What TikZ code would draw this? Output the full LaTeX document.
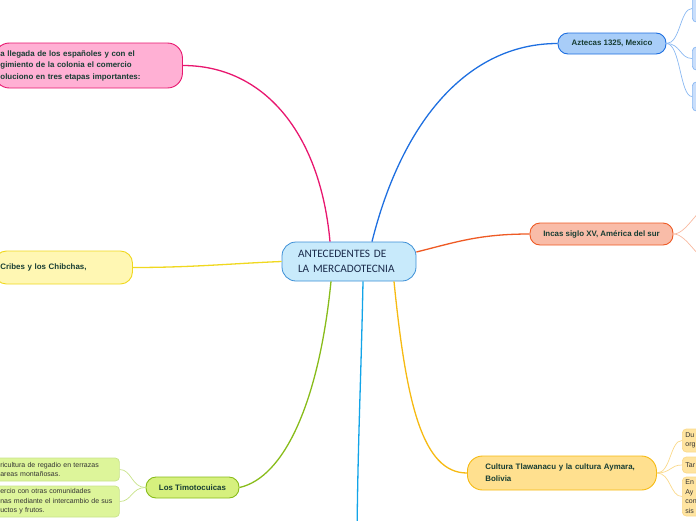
\documentclass[tikz,border=0pt]{standalone}
\usepackage{fontspec}
\setmainfont{Liberation Sans}
\newfontfamily\rootfont{Carlito}
\definecolor{rootfill}{HTML}{C8EAFB}
\definecolor{rootedge}{HTML}{3C8FD6}
\definecolor{rootink}{HTML}{1B2B4B}
\definecolor{labelink}{HTML}{173D33}
\definecolor{leafink}{HTML}{333333}
\definecolor{pinkfill}{HTML}{FFB0D4}
\definecolor{pinkline}{HTML}{E8176F}
\definecolor{bluefill}{HTML}{A8CDF8}
\definecolor{blueline}{HTML}{1E6FE0}
\definecolor{bluetwig}{HTML}{8AB8F2}
\definecolor{blueleaf}{HTML}{C9DEFB}
\definecolor{incafill}{HTML}{F9BCA8}
\definecolor{incaline}{HTML}{EE5A24}
\definecolor{incatwig}{HTML}{F8B9A0}
\definecolor{yellowfill}{HTML}{FFF7B3}
\definecolor{yellowline}{HTML}{F0D81F}
\definecolor{greenfill}{HTML}{D6F07E}
\definecolor{greenline}{HTML}{88BC1A}
\definecolor{greenleaf}{HTML}{DDF59A}
\definecolor{greentwig}{HTML}{C8E38A}
\definecolor{cyanline}{HTML}{12A4E8}
\definecolor{amberfill}{HTML}{FFE08F}
\definecolor{amberline}{HTML}{F6BA12}
\definecolor{amberleaf}{HTML}{FFE4A0}
\definecolor{ambertwig}{HTML}{FAD98A}

\begin{document}
\begin{tikzpicture}[
    x=1pt, y=-1pt,
    topic/.style={draw, rounded corners=10pt, line width=0.9pt, inner sep=0pt, text=labelink, font=\bfseries\fontsize{7.9}{11.5}\selectfont},
    leaf/.style={draw, rounded corners=4pt, line width=0.7pt, inner ysep=0pt, align=left, anchor=west, text=leafink, font=\fontsize{7}{9.5}\selectfont},
    branch/.style={line width=1.3pt},
    twig/.style={line width=0.7pt},
]
    \useasboundingbox (0,0) rectangle (696,520);
    \clip (0,0) rectangle (696,520);

    % central topic
    \node[draw=rootedge, fill=rootfill, rounded corners=14pt, line width=0.8pt, minimum height=39pt, inner xsep=16pt, text width=102pt, align=left, text=rootink, font=\rootfont\fontsize{11.3}{15}\selectfont] (root) at (349,261.5) {ANTECEDENTES DE\\LA MERCADOTECNIA};

    % main topics
    \node[topic, draw=pinkline, fill=pinkfill, rounded corners=15pt, anchor=west, minimum height=45pt, inner xsep=6pt, text width=176pt, align=left] (conquista) at (-6,65.5) {a llegada de los españoles y con el\\gimiento de la colonia el comercio\\oluciono en tres etapas importantes:};
    \node[topic, draw=blueline, fill=bluefill, minimum width=108pt, minimum height=21pt] (aztecas) at (612,43.5) {Aztecas 1325, Mexico};
    \node[topic, draw=incaline, fill=incafill, minimum width=143pt, minimum height=22pt] (incas) at (601.5,234) {Incas siglo XV, América del sur};
    \node[topic, draw=yellowline, fill=yellowfill, rounded corners=12pt, anchor=west, minimum height=33pt, inner xsep=6pt, text width=126pt, align=left] (cribes) at (-6,267.5) {Cribes y los Chibchas,};
    \node[topic, draw=greenline, fill=greenfill, minimum width=93pt, minimum height=21pt] (timoto) at (192.5,487.5) {Los Timotocuicas};
    \node[topic, draw=amberline, fill=amberfill, rounded corners=15pt, anchor=west, minimum height=34pt, inner xsep=18pt, text width=153pt, align=left, font=\bfseries\fontsize{7.9}{12}\selectfont] (tiwanaku) at (467,473) {Cultura Tlawanacu y la cultura Aymara,\\Bolivia};

    % sub topics
    \node[leaf, draw=bluetwig, fill=blueleaf, minimum width=40pt, minimum height=27pt] (azt1) at (692,8.5) {};
    \node[leaf, draw=bluetwig, fill=blueleaf, minimum width=40pt, minimum height=23pt] (azt2) at (692,58.5) {};
    \node[leaf, draw=bluetwig, fill=blueleaf, minimum width=40pt, minimum height=29pt] (azt3) at (692,96.5) {};
    \coordinate (inca1) at (712,205);
    \coordinate (inca2) at (712,262);
    \coordinate (below) at (357,535);
    \node[leaf, draw=greentwig, fill=greenleaf, minimum height=23pt, inner xsep=6pt, text width=113pt] (timo1) at (-6,469.5) {ricultura de regadio en terrazas\\areas montañosas.};
    \node[leaf, draw=greentwig, fill=greenleaf, minimum height=31pt, inner xsep=6pt, text width=113pt] (timo2) at (-6,501.5) {ercio con otras comunidades\\nas mediante el intercambio de sus\\uctos y frutos.};
    \node[leaf, draw=ambertwig, fill=amberleaf, minimum height=23pt, inner xsep=3pt, text width=74pt] (tiwa1) at (682,440.5) {Du\\org};
    \node[leaf, draw=ambertwig, fill=amberleaf, minimum height=16pt, inner xsep=3pt, text width=74pt] (tiwa2) at (682,465) {Tar};
    \node[leaf, draw=ambertwig, fill=amberleaf, minimum height=39pt, inner xsep=3pt, text width=74pt] (tiwa3) at (682,496.5) {En\\Ay\\con\\sis};

    % branches
    \draw[branch, pinkline] ([xshift=-19pt]root.north) .. controls +(-10,-110) and +(80,0) .. (conquista.east);
    \draw[branch, blueline] ([xshift=23pt]root.north) .. controls +(30,-120) and +(-90,0) .. (aztecas.west);
    \draw[branch, incaline] ([yshift=9.5pt]root.east) .. controls +(40,-10) and +(-50,0) .. (incas.west);
    \draw[branch, yellowline] (root.west) .. controls +(-50,2) and +(60,0) .. (cribes.east);
    \draw[branch, greenline] ([xshift=-18pt]root.south) .. controls +(-12,120) and +(45,-10) .. (timoto.east);
    \draw[branch, cyanline] ([xshift=14pt]root.south) .. controls +(-2,100) and +(1,-100) .. (below);
    \draw[branch, amberline] ([xshift=45pt]root.south) .. controls +(12,120) and +(-45,0) .. (tiwanaku.west);

    % twigs
    \foreach \k in {azt1,azt2,azt3}
        \draw[twig, bluetwig] (aztecas.east) .. controls +(14,0) and +(-12,0) .. (\k.west);
    \foreach \k in {inca1,inca2}
        \draw[twig, incatwig] (incas.east) .. controls +(14,0) and +(-14,0) .. (\k);
    \foreach \k in {timo1,timo2}
        \draw[twig, greentwig] (timoto.west) .. controls +(-14,0) and +(12,0) .. (\k.east);
    \foreach \k in {tiwa1,tiwa2,tiwa3}
        \draw[twig, ambertwig] (tiwanaku.east) .. controls +(14,0) and +(-12,0) .. (\k.west);
\end{tikzpicture}
\end{document}
